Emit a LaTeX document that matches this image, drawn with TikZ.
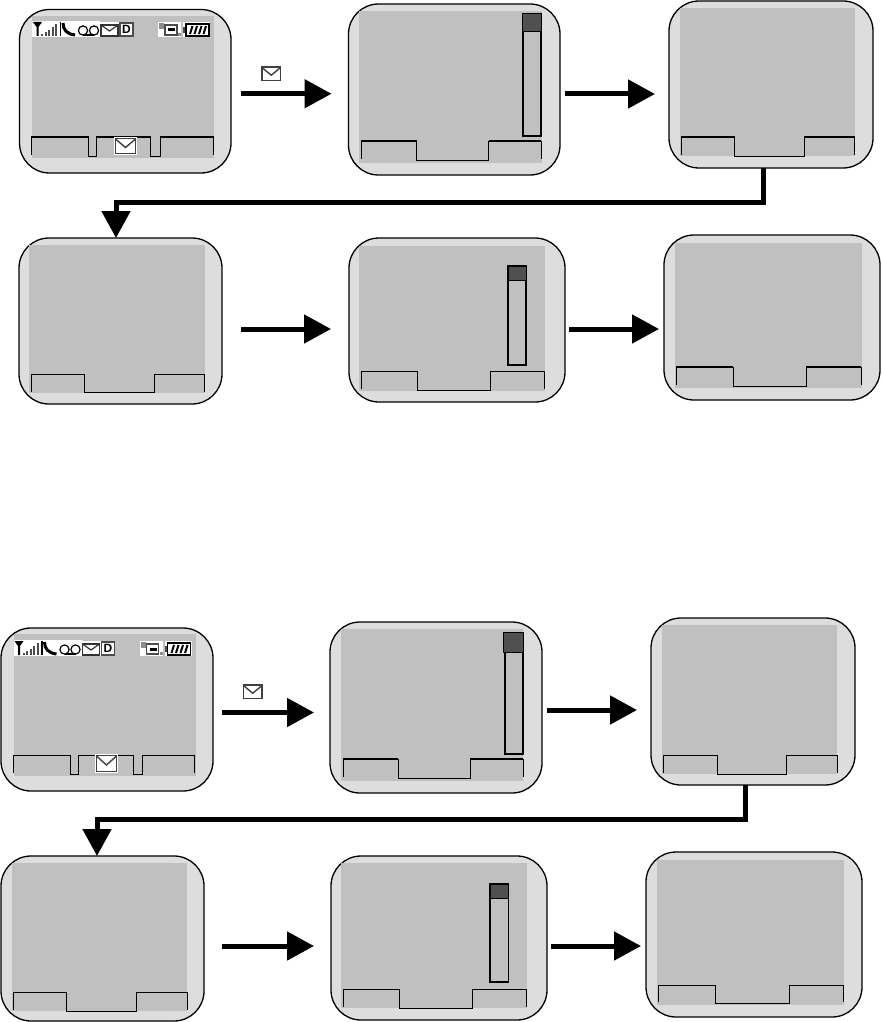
\documentclass[tikz,border=0pt]{standalone}
\usepackage{fontspec}
\setsansfont{Liberation Sans}
\usetikzlibrary{arrows.meta}
\definecolor{bezel}{HTML}{DDDDDD}
\definecolor{lcd}{HTML}{C0C0C0}
\definecolor{thumb}{HTML}{505050}
\tikzset{
  phone/.style={draw=black,line width=1.3pt,fill=bezel,rounded corners=30pt,inner sep=0pt,outer sep=0pt},
  flow/.style={draw=black,line width=5pt,-{Triangle[length=27pt,width=28pt]}},
  softkey/.style={draw=black,line width=1pt,line join=miter},
  scrollbar/.style={draw=black,line width=1.4pt,fill=lcd},
  scrollthumb/.style={draw=black,line width=1pt,fill=thumb},
  icon/.style={draw=black,line width=1.2pt},
}
\newcommand{\phoneframe}[5]{%
  \node[phone,minimum width={(#4-#2)*1pt},minimum height={(#5-#3)*1pt}] (#1) at ({(#2+#4)/2},{(#3+#5)/2}) {};}
\newcommand{\lcdarea}[4]{\fill[lcd] (#1,#2) rectangle (#3,#4);}
% x1 x2 x3 x4 top bottom
\newcommand{\softkeys}[6]{\draw[softkey] (#1,#6-1) -- (#1,#5) -- (#2,#5) -- (#2,#6) -- (#3,#6) -- (#3,#5) -- (#4,#5) -- (#4,#6-1);}
\newcommand{\envicon}[4]{%
  \fill[white] (#1,#2) rectangle (#3,#4);
  \draw[draw=black!75,line width=1.4pt] (#1+1.5,#2+1.5) rectangle (#3-1.5,#4-1.5);
  \draw[draw=black!75,line width=1.4pt] (#1+1.5,#2+2) -- ({(#1+#3)/2},{(#2+#4)/2+1.5}) -- (#3-1.5,#2+2);}
\newcommand{\softmid}[8]{\draw[softkey] (#1,#8-1) -- (#1,#7) -- (#2,#7) -- (#2,#8) -- (#3,#8) -- (#3,#7) -- (#4,#7) -- (#4,#8) -- (#5,#8) -- (#5,#7) -- (#6,#7) -- (#6,#8-1);}
\newcommand{\statusbar}[4]{%
  \begin{scope}[shift={(#1,#2)}]
    \fill[white] (32,21) rectangle (100,37);
    \fill[white] (100,22) rectangle (133,37);
    % antenna
    \fill[black] (33,22) -- (42,22) -- (38.5,27) -- (38.5,36) -- (36.5,36) -- (36.5,27) -- cycle;
    % signal bars
    \foreach \bx/\by in {41/34,44.5/32,48/30,51.5/27,55/24}{\fill[black!70] (\bx,\by) rectangle (\bx+2.2,36);}
    \fill[black] (59.5,22) rectangle (61,36);
    % handset
    \draw[icon,line width=3pt] (63,23) .. controls (63,30) and (67,34) .. (75,35);
    % voicemail
    \draw[icon] (83,30.5) circle (4.6); \draw[icon] (94,30.5) circle (4.6);
    \draw[icon] (83,35) -- (94,35);
    % envelope
    \draw[icon,draw=black!80] (101,25) rectangle (118,36);
    \draw[icon,draw=black!80] (101,25) -- (109.5,31) -- (118,25);
    % D
    \draw[icon,draw=black!70] (120,23) rectangle (133,36);
    \node[font=\sffamily\bfseries\fontsize{12}{12}\selectfont,inner sep=0pt] (#3) at (126.5,29.5) {D};
    % fax-like icon
    \fill[white] (158,22) rectangle (181,37);
    \fill[black!45] (159,23) rectangle (164,29);
    \draw[draw=black!70,line width=1.2pt] (165,25) rectangle (177,35);
    \fill[black] (168,28.5) rectangle (175,31.5);
    \fill[black!45] (178,33) rectangle (181,36);
    % battery
    \fill[white] (183,22) rectangle (210,37);
    \fill[black!70] (183,27) rectangle (185.5,33);
    \draw[icon] (186,24) rectangle (209,36);
    \foreach \bx in {190,194.5,199,203.5}{\draw[black,line width=2pt] (\bx,34) -- (\bx+2.5,26);}
    \coordinate (#4) at (197,30);
  \end{scope}}
% from, to, vertical offset of the arrow, gap at start, gap at end
\newcommand{\connect}[5]{%
  \draw[flow,shorten <=#4pt,shorten >=#5pt] ([yshift=-#3pt]#1.east) -- ([yshift=-#3pt]#1.east -| #2.west);}
\begin{document}
\begin{tikzpicture}[x=1pt,y=-1pt]
\useasboundingbox (0,0) rectangle (881,1022);
\fill[white] (0,0) rectangle (881,1022);

% ---------- upper group
\phoneframe{pa}{19.5}{9.5}{231}{173}
\lcdarea{32}{16}{214}{158}
\statusbar{0}{0}{da}{ba}
\softmid{31.5}{88}{96}{150}{160}{213}{137}{156}
\envicon{114}{137}{137}{155}
\phoneframe{pb}{348.5}{4}{560}{175}
\lcdarea{359}{11}{541.7}{163}
\softkeys{361}{416.5}{488.5}{541}{141}{160}
\draw[softkey,line width=1.4pt] (361,141) -- (416.5,141) (488.5,141) -- (541,141);
\draw[scrollbar] (523,18) rectangle (541,136);
\draw[scrollthumb] (522,14) rectangle (541,32);
\phoneframe{pc}{669}{1}{873}{168}
\lcdarea{680}{8}{855}{156}
\softkeys{681}{734}{804}{854}{137}{156}
\phoneframe{pd}{19}{238}{222}{404}
\lcdarea{29}{245}{205}{393}
\softkeys{31}{84.5}{154}{204}{374}{392.5}
\draw[softkey,line width=1.6pt] (84.5,392.5) -- (154,392.5);
\phoneframe{pe}{349}{238}{565}{402}
\lcdarea{359}{246}{545}{391}
\softkeys{361}{417}{490}{544}{371}{390}
\draw[scrollbar] (508,266) rectangle (526,365);
\draw[scrollthumb] (508,266) rectangle (526,280);
\phoneframe{pf}{664}{235}{880}{400}
\lcdarea{675}{243}{862}{388}
\softkeys{676}{733}{806}{861}{367}{386}
\draw[softkey,line width=1.4pt] (676,367) -- (733,367) (806,367) -- (861,367);

\envicon{260.5}{65.5}{282}{82}
\connect{pa}{pb}{2.5}{10}{17}
\connect{pb}{pc}{4.5}{5}{14}
\draw[flow] ([xshift=-8pt]pc.south) -- ++(0,34) -| ([xshift=-4.5pt]pd.north);
\connect{pd}{pe}{8}{19}{18}
\connect{pe}{pf}{9}{4}{5}

% ---------- lower group
\phoneframe{pg}{1}{628}{213}{791}
\lcdarea{14}{634}{196}{776}
\statusbar{-18.5}{619}{dg}{bg}
\softmid{13.5}{70}{78}{133}{142}{194.5}{755}{774}
\envicon{95}{754}{118}{773}
\phoneframe{ph}{330}{622}{542}{793}
\lcdarea{341}{629}{523}{781}
\softkeys{343}{398}{470}{523}{759}{778}
\draw[softkey,line width=1.4pt] (343,759) -- (398,759) (470,759) -- (523,759);
\draw[scrollbar] (505,636) rectangle (523,754);
\draw[scrollthumb] (503,632) rectangle (523,652);
\phoneframe{pi}{651}{618}{855}{785}
\lcdarea{662}{625}{837}{774}
\softkeys{663}{717}{786}{837}{755}{774}
\phoneframe{pj}{1}{856}{204}{1021}
\lcdarea{12}{863}{187}{1011}
\softkeys{13}{66}{136}{187}{992}{1011}
\phoneframe{pk}{331}{856}{547}{1020}
\lcdarea{341}{863}{527}{1008}
\softkeys{343}{399}{472.5}{526}{989.5}{1008}
\draw[scrollbar] (490,884) rectangle (508.5,982);
\draw[scrollthumb] (490,884) rectangle (508.5,898);
\phoneframe{pl}{646}{852}{862}{1017}
\lcdarea{657}{860}{844}{1005}
\softkeys{658}{715}{789}{843}{985}{1003}

\envicon{242}{683.5}{263.5}{700}
\connect{pg}{ph}{3}{9}{16}
\connect{ph}{pi}{2.5}{5}{14}
\draw[flow] ([xshift=-8pt]pi.south) -- ++(0,34) -| ([xshift=-5.5pt]pj.north);
\connect{pj}{pk}{7.5}{18}{17}
\connect{pk}{pl}{8}{4}{5}
\end{tikzpicture}
\end{document}
